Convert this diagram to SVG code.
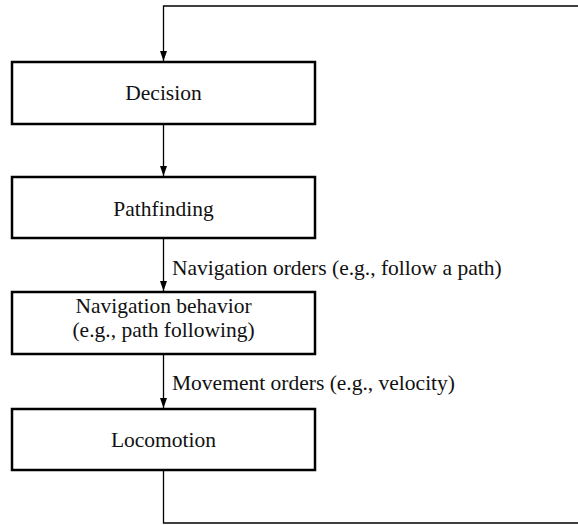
<svg xmlns="http://www.w3.org/2000/svg" width="578" height="525" viewBox="0 0 578 525">
<style>
.box{fill:#fff;stroke:#000;stroke-width:2.5}
.t{font-family:"Liberation Serif","Times New Roman",serif;font-size:21.5px;fill:#111}
.c{text-anchor:middle}
.ln{fill:none;stroke:#000;stroke-width:1.3}
</style>
<defs>
<marker id="ah" markerWidth="10" markerHeight="14" refX="10" refY="3.5" orient="auto" markerUnits="userSpaceOnUse" viewBox="0 0 10 7">
<path d="M0,0 L10,3.5 L0,7 Z" fill="#000"/>
</marker>
</defs>
<g id="connectors">
<path class="ln" d="M578,6 H163.5 V61" marker-end="url(#ah)"/>
<path class="ln" d="M163.5,124 V176" marker-end="url(#ah)"/>
<path class="ln" d="M163.5,238 V291" marker-end="url(#ah)"/>
<path class="ln" d="M163.5,354 V408" marker-end="url(#ah)"/>
<path class="ln" d="M163.5,470 V523 H578"/>
<text class="t" x="172" y="275" font-family="Liberation Serif, serif">Navigation orders (e.g., follow a path)</text>
<text class="t" x="172" y="390" font-family="Liberation Serif, serif">Movement orders (e.g., velocity)</text>
</g>
<g id="decision">
<rect class="box" x="12" y="62" width="303" height="62"/>
<text class="t c" x="163.5" y="100">Decision</text>
</g>
<g id="pathfinding">
<rect class="box" x="12" y="177" width="303" height="61"/>
<text class="t c" x="163.5" y="216">Pathfinding</text>
</g>
<g id="navigation">
<rect class="box" x="12" y="292" width="303" height="62"/>
<text class="t c" x="163.5" y="313">Navigation behavior</text>
<text class="t c" x="163.5" y="337">(e.g., path following)</text>
</g>
<g id="locomotion">
<rect class="box" x="12" y="409" width="303" height="61"/>
<text class="t c" x="163.5" y="447">Locomotion</text>
</g>
</svg>
